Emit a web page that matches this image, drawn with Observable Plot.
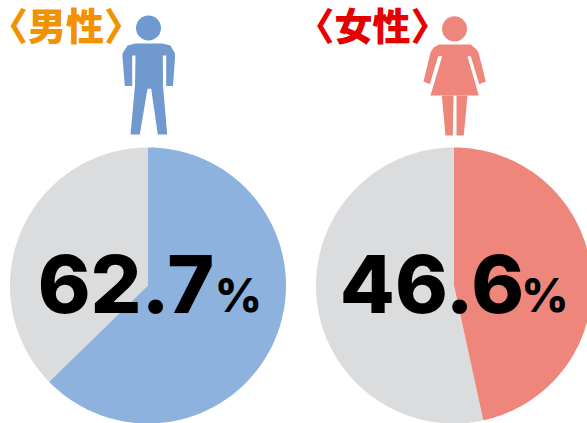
<!DOCTYPE html>
<html lang="ja">
<head>
<meta charset="utf-8">
<style>html,body{margin:0;padding:0;background:#fff}svg{display:block}</style>
<script src="https://cdn.jsdelivr.net/npm/d3@7"></script>
<script src="https://cdn.jsdelivr.net/npm/@observablehq/plot@0.6"></script>
</head>
<body>
<div id="chart"></div>
<script>
const titles = ["〈男性〉", "〈女性〉"];
const shares = [62.7, 46.6];
const shareLabels = ["62.7", "46.6"];
const unit = "%";
const sliceColors = ["#8DB2DE", "#EF867C"];
const iconColors = ["#7099D0", "#EF867C"];
const titleColors = ["#F39200", "#E60000"];
const restColor = "#DBDCDE";

const centerX = [147.5, 453.5];
const centerY = 285;
const radius = 138;
const titleX = [65.5, 372];
const headX = [148, 454];
const headY = [27.5, 28.3];
const numberX = [125.5, 431.5];
const percentX = [238, 544.5];

const manBody = [[135,43],[162,43],[170,45],[174.5,53],[174.5,57],[172.5,85.5],[165.7,85.5],[165.7,55],[162.3,55],[162.5,85],[166.7,134],[157.3,134],[150.7,88.3],[147,88.3],[139.3,134],[130,134],[134.5,85],[135,55],[131.7,55],[131.7,85.5],[124.3,85.5],[122,57],[122,53],[127,45]];
const womanBody = [[438.7,44],[470.3,44],[476,49],[478,52],[485.3,81],[478.7,83.7],[470.3,55.7],[467,55.7],[478.3,95],[430,95],[441.7,55.7],[437.7,55.7],[429.3,83.7],[423,81],[430,52],[433,47]];
const womanLegs = [[441.3,95],[445,135],[452.3,135],[453,95]];
const womanLegs2 = [[456,95],[456,135],[463.3,135],[467,95]];

// Wedge outline in plot coordinates, clockwise from 12 o'clock.
function wedge(cx, from, to) {
  const n = Math.max(2, Math.ceil((to - from) * 3));
  const pts = [[cx, centerY]];
  for (let i = 0; i <= n; i++) {
    const a = (from + (to - from) * i / n) / 100 * 2 * Math.PI;
    pts.push([cx + radius * Math.sin(a), centerY - radius * Math.cos(a)]);
  }
  return pts;
}
const X = d => d[0], Y = d => d[1];
const shape = (pts, fill) => Plot.line(pts, {x: X, y: Y, fill, stroke: "none", curve: "linear-closed"});

const marks = [];
shares.forEach((v, i) => {
  marks.push(shape(wedge(centerX[i], v, 100), restColor));
  marks.push(shape(wedge(centerX[i], 0, v), sliceColors[i]));
});
marks.push(shape(manBody, iconColors[0]), shape(womanBody, iconColors[1]),
            shape(womanLegs, iconColors[1]), shape(womanLegs2, iconColors[1]));
marks.push(Plot.dot(headX, {x: d => d, y: (d, i) => headY[i], r: 12.5, fill: (d, i) => iconColors[i], stroke: "none"}));
marks.push(Plot.text(titles, {x: (d, i) => titleX[i], y: 27, text: d => d, fill: (d, i) => titleColors[i],
  fontFamily: "'Noto Sans CJK JP'", fontWeight: 900, fontSize: 38}));
marks.push(Plot.text(shareLabels, {x: (d, i) => numberX[i], y: 286.5, text: d => d, fill: "#000",
  fontFamily: "Inter", fontWeight: 800, fontSize: 80}));
marks.push(Plot.text(shareLabels, {x: (d, i) => percentX[i], y: 297, text: () => unit, fill: "#000",
  fontFamily: "Inter", fontWeight: 800, fontSize: 46}));

const plot = Plot.plot({
  width: 587, height: 423, margin: 0,
  x: {type: "linear", domain: [0, 587], range: [0, 587], axis: null},
  y: {type: "linear", domain: [0, 423], range: [0, 423], axis: null},
  color: {type: "identity"},
  style: {background: "#fff"},
  marks
});
document.getElementById("chart").appendChild(plot);
</script>
</body>
</html>
